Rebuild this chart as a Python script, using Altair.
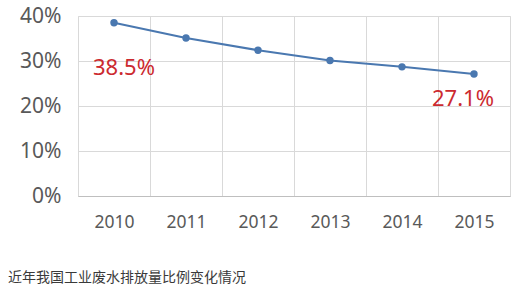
import altair as alt
import pandas as pd

years = ["2010", "2011", "2012", "2013", "2014", "2015"]
values = [0.385, 0.351, 0.324, 0.301, 0.287, 0.271]
label_years = ["2010", "2015"]
label_values = [0.385, 0.271]
label_texts = ["38.5%", "27.1%"]
caption = ["近年我国工业废水排放量比例变化情况"]

df = pd.DataFrame({"year": years, "value": values})
lab = pd.DataFrame({"year": label_years, "value": label_values, "text": label_texts})
cap = pd.DataFrame({"text": caption})

FONT = "Noto Sans"

x = alt.X("year:N", sort=years, title=None,
          scale=alt.Scale(paddingInner=0, paddingOuter=0),
          axis=alt.Axis(labelAngle=0, grid=True, tickBand="extent", ticks=False,
                        gridColor="#d9d9d9", domainColor="#bfbfbf",
                        labelFont=FONT, labelFontSize=17.5, labelColor="#595959",
                        labelPadding=17))
y = alt.Y("value:Q", title=None,
          scale=alt.Scale(domain=[0, 0.4], nice=False),
          axis=alt.Axis(format=".0%", values=[0, 0.1, 0.2, 0.3, 0.4], grid=True,
                        gridColor="#d9d9d9", domain=False, ticks=False,
                        labelFont=FONT, labelFontSize=21, labelColor="#595959",
                        labelPadding=17))

base = alt.Chart(df)
line = base.mark_line(color="#4a78b0", strokeWidth=2).encode(x=x, y=y)
pts = base.mark_circle(color="#4a78b0", size=55, opacity=1).encode(x=x, y=y)

lab_base = alt.Chart(lab).encode(
    x=alt.X("year:N", sort=years),
    y=alt.Y("value:Q"),
    text="text:N",
)
label_first = lab_base.mark_text(font=FONT, fontSize=22, color="#cc2a2f", dx=10, dy=45).transform_filter(
    alt.datum.year == label_years[0])
label_last = lab_base.mark_text(font=FONT, fontSize=22, color="#cc2a2f", dx=-11, dy=25).transform_filter(
    alt.datum.year == label_years[1])

cap_layer = alt.Chart(cap).mark_text(font="Noto Sans CJK SC", fontSize=14, color="#3a3a3a",
                                     align="left", baseline="middle").encode(
    x=alt.value(-70), y=alt.value(262), text="text:N")

chart = alt.layer(line, pts, label_first, label_last, cap_layer).properties(
    width=432, height=180,
    autosize=alt.AutoSizeParams(type="none"),
    padding={"left": 78, "top": 16, "right": 15, "bottom": 96},
).configure_view(stroke=None).configure(background="white")

chart.save("out.html", embed_options={"renderer": "svg", "actions": False})
